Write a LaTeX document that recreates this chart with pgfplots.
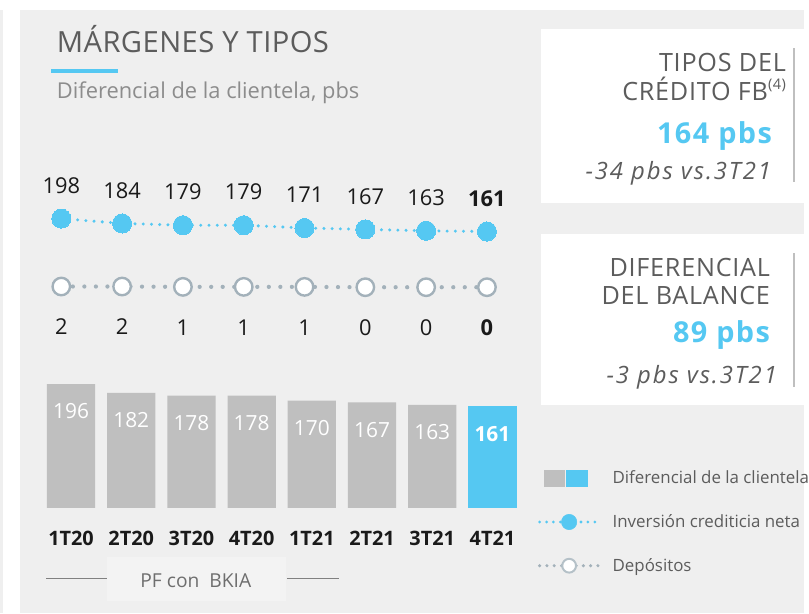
\documentclass[border=0pt]{standalone}
\usepackage{pgfplots}
\pgfplotsset{compat=1.18}
\usepackage{fontspec}
\setmainfont{Open Sans}
\definecolor{panel}{HTML}{EFEFEF}
\definecolor{pfbox}{HTML}{F3F3F3}
\definecolor{myblue}{HTML}{55C8F2}
\definecolor{bargray}{HTML}{BFBFBF}
\definecolor{dotgray}{HTML}{A3B1BA}
\definecolor{txtgray}{HTML}{5C5C5C}
\definecolor{subgray}{HTML}{8C8C8C}
\definecolor{numblack}{HTML}{1A1A1A}
\definecolor{linegray}{HTML}{BFBFBF}
\definecolor{pfgray}{HTML}{6E6E6E}
\newcommand\fs[1]{\fontsize{#1}{#1}\selectfont}
\newcommand\ls[1]{\addfontfeatures{LetterSpace=#1}}
\begin{document}
\begin{tikzpicture}
\begin{scope}[x=0.75pt,y=-0.75pt]
\fill[white] (0,0) rectangle (809,617);
\fill[panel] (20,10) rectangle (809,617);
\fill[panel] (0,10) rectangle (3,617);
\fill[white] (544,29) rectangle (809,204);
\fill[white] (544,235) rectangle (809,408);
\fill[linegray] (798,48) rectangle (800,183);
\fill[linegray] (798,255) rectangle (800,389);
\fill[myblue] (51,69) rectangle (119,73);
\node[anchor=base west, inner sep=0pt, font=\fs{22pt}\ls{1.5}, text=txtgray] at (57,53) {MÁRGENES Y TIPOS};
\node[anchor=base west, inner sep=0pt, font=\fs{16.5pt}, text=subgray] at (57,99) {Diferencial de la clientela, pbs};
% box 1
\node[anchor=base east, inner sep=0pt, font=\fs{19pt}\ls{3}, text=txtgray] at (791,72) {TIPOS DEL};
\node[anchor=base east, inner sep=0pt, font=\fs{19pt}\ls{3}, text=txtgray] at (791,101) {CRÉDITO FB\raisebox{0.42em}{\fs{11pt}(4)}};
\node[anchor=base east, inner sep=0pt, font=\fs{21.75pt}\bfseries\ls{5}, text=myblue] at (777,144) {164 pbs};
\node[anchor=base east, inner sep=0pt, font=\fs{18pt}\itshape\ls{8}, text=txtgray] at (776,181) {-34 pbs vs.3T21};
% box 2
\node[anchor=base east, inner sep=0pt, font=\fs{19pt}\ls{3}, text=txtgray] at (775,278) {DIFERENCIAL};
\node[anchor=base east, inner sep=0pt, font=\fs{19pt}\ls{3}, text=txtgray] at (775,306) {DEL BALANCE};
\node[anchor=base east, inner sep=0pt, font=\fs{21.75pt}\bfseries\ls{5}, text=myblue] at (775,345) {89 pbs};
\node[anchor=base east, inner sep=0pt, font=\fs{18pt}\itshape\ls{8}, text=txtgray] at (782,386) {-3 pbs vs.3T21};
% PF con BKIA
\fill[pfbox] (108,560) rectangle (288,605);
\draw[gray, line width=0.75pt] (46.7,581.7) -- (108,581.7);
\draw[gray, line width=0.75pt] (289,581.7) -- (341,581.7);
\node[anchor=base, inner sep=0pt, font=\fs{14.5pt}, text=pfgray] at (197,590.7) {PF con\ \ BKIA};
\end{scope}

% ---------- bars ----------
\begin{axis}[
  at={(30.9pt,-383.25pt)}, anchor=south west,
  scale only axis, width=363.45pt, height=95.25pt,
  xmin=-0.5, xmax=7.5, ymin=0, ymax=200,
  axis line style={draw=none}, tick style={draw=none},
  ytick=\empty, xtick={0,...,7},
  xticklabels={1T20,2T20,3T20,4T20,1T21,2T21,3T21,4T21},
  xticklabel style={font=\fs{15pt}\bfseries, text=numblack, anchor=center, yshift=-23.25pt},
  bar width=36.4pt, clip=false,
  legend style={at={(axis description cs:1.0314,0.31)}, anchor=north west,
    draw=none, fill=none, inner sep=0pt, row sep=19pt, column sep=9.75pt,
    nodes={inner sep=0pt, text=txtgray, font=\fs{12.75pt}}},
  legend cell align=left,
]
\addplot[ybar, bar shift=0pt, fill=bargray, draw=none, forget plot,
  point meta=explicit symbolic, nodes near coords,
  every node near coord/.append style={anchor=center, yshift=-20.5pt, text=white, font=\fs{15.75pt}}]
  coordinates {(0,196)[196] (1,182)[182] (2,178)[178] (3,178)[178] (4,170)[170] (5,167)[167] (6,163)[163]};
\addplot[ybar, bar shift=0pt, fill=myblue, draw=none, forget plot,
  point meta=explicit symbolic, nodes near coords,
  every node near coord/.append style={anchor=center, yshift=-21pt, text=white, font=\fs{15.75pt}\bfseries}]
  coordinates {(7,161)[161]};
\addlegendimage{legend image code/.code={
  \path[draw=none, fill=none] (0pt,-7pt) rectangle (45pt,7pt);
  \fill[bargray] (4.5pt,-6.4pt) rectangle (19.5pt,6.4pt);
  \fill[myblue] (21pt,-6.4pt) rectangle (36.75pt,6.4pt);}}
\addlegendentry{Diferencial de la clientela}
\addlegendimage{legend image code/.code={
  \path[draw=none, fill=none] (0pt,-7pt) rectangle (45pt,7pt);
  \draw[myblue, line width=2.3pt, dash pattern=on 0pt off 5.2pt, line cap=round] (1pt,0pt) -- (45pt,0pt);
  \fill[myblue] (23.25pt,0pt) circle (5.8pt);}}
\addlegendentry{Inversión crediticia neta}
\addlegendimage{legend image code/.code={
  \path[draw=none, fill=none] (0pt,-7pt) rectangle (45pt,7pt);
  \draw[dotgray, line width=2.6pt, dash pattern=on 0pt off 5.5pt, line cap=round] (1pt,0pt) -- (45pt,0pt);
  \filldraw[fill=white, draw=dotgray!80, line width=1.5pt] (23.25pt,0pt) circle (5.2pt);}}
\addlegendentry{Depósitos}
\end{axis}

% ---------- blue line ----------
\begin{axis}[
  at={(23.325pt,-177.6pt)}, anchor=south west,
  scale only axis, width=367.1pt, height=15.8pt,
  xmin=-0.5, xmax=7.5, ymin=150, ymax=210,
  hide axis, clip=false,
]
\addplot[myblue, line width=2.5pt, dash pattern=on 0pt off 6.2pt, line cap=round,
  mark=*, mark size=7.2pt, mark options={solid, fill=myblue, draw=myblue, line width=0pt},
  point meta=explicit symbolic, nodes near coords,
  every node near coord/.append style={anchor=center, yshift=25pt, text=numblack, font=\fs{16.5pt}}]
  coordinates {(0,198)[198] (1,184)[184] (2,179)[179] (3,179)[179] (4,171)[171] (5,167)[167] (6,163)[163] (7,161)[\textbf{161}]};
\end{axis}

% ---------- gray line ----------
\begin{axis}[
  at={(23.325pt,-224.65pt)}, anchor=south west,
  scale only axis, width=367.1pt, height=15.8pt,
  xmin=-0.5, xmax=7.5, ymin=-30, ymax=30,
  hide axis, clip=false,
]
\addplot[dotgray, line width=3.2pt, dash pattern=on 0pt off 8.7pt, line cap=round,
  mark=*, mark size=6.6pt, mark options={solid, fill=white, draw=dotgray, line width=1.8pt},
  point meta=explicit symbolic, nodes near coords,
  every node near coord/.append style={anchor=center, yshift=-30.5pt, text=numblack, font=\fs{16.5pt}}]
  coordinates {(0,2)[2] (1,2)[2] (2,1)[1] (3,1)[1] (4,1)[1] (5,0)[0] (6,0)[0] (7,0)[\textbf{0}]};
\end{axis}
\end{tikzpicture}
\end{document}
